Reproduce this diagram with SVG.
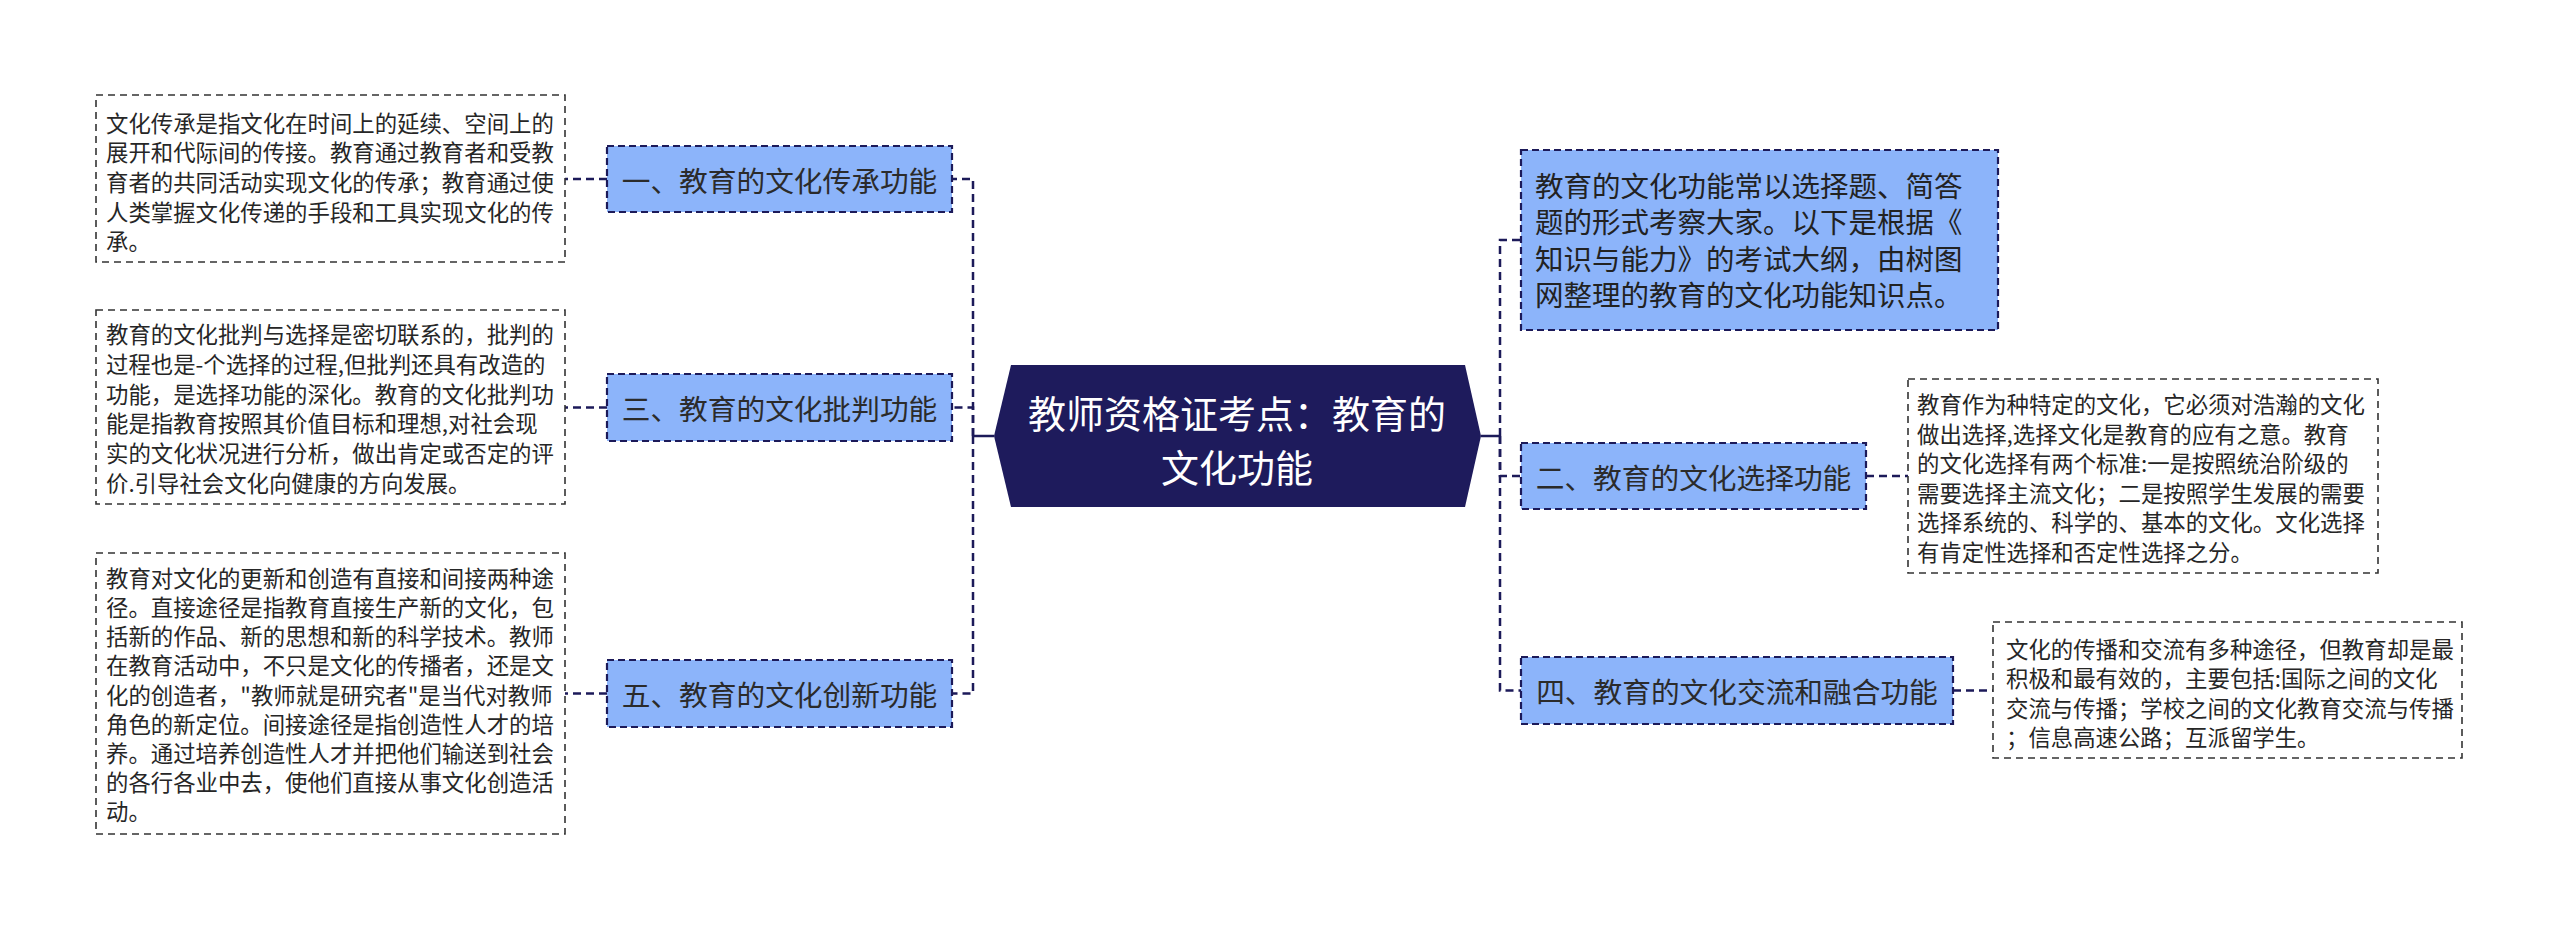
<svg xmlns="http://www.w3.org/2000/svg" width="2560" height="930" viewBox="0 0 2560 930">
<style>
text { font-family: "Noto Sans CJK SC", "Noto Sans", sans-serif; dominant-baseline: central; }
.leaf rect { fill: #ffffff; stroke: #333333; stroke-width: 1.6; stroke-dasharray: 7 5; }
.leaf text { font-size: 22.4px; fill: #262626; }
.branch rect { fill: #8cb4fa; stroke: #1c1a59; stroke-width: 2.2; stroke-dasharray: 7 4; }
.branch text { font-size: 28.7px; fill: #2b2b2b; text-anchor: middle; }
.intro text { font-size: 28.5px; fill: #222222; text-anchor: start; }
.root polygon { fill: #1e1b5c; }
.root text { font-size: 38px; fill: #ffffff; text-anchor: middle; }
.conn path { fill: none; stroke: #1c1a59; stroke-width: 2.5; }
.conn .d { stroke-dasharray: 8 5; }
</style>

<g id="connectors" class="conn">
  <path d="M994 436 H973"/>
  <path class="d" d="M973 436 V179 H952"/>
  <path class="d" d="M973 436 V407.5 H952"/>
  <path class="d" d="M973 436 V693.5 H952"/>
  <path d="M1481 436 H1500"/>
  <path class="d" d="M1500 436 V240 H1521"/>
  <path class="d" d="M1500 436 V476 H1521"/>
  <path class="d" d="M1500 436 V690.5 H1521"/>
  <path class="d" d="M607 179 H565"/>
  <path class="d" d="M607 407.5 H565"/>
  <path class="d" d="M607 693.5 H565"/>
  <path class="d" d="M1866 476 H1908"/>
  <path class="d" d="M1953 690.5 H1993"/>
</g>

<g id="root" class="root">
  <polygon points="994,436 1011,365 1465,365 1481,436 1465,507 1011,507"/>
  <text x="1237" y="411">教师资格证考点：教育的</text>
  <text x="1237" y="465">文化功能</text>
</g>

<g id="branch1" class="branch">
  <rect x="607" y="146" width="345" height="66"/>
  <text x="779.5" y="179">一、教育的文化传承功能</text>
</g>
<g id="branch3" class="branch">
  <rect x="607" y="374" width="345" height="67"/>
  <text x="779.5" y="407.5">三、教育的文化批判功能</text>
</g>
<g id="branch5" class="branch">
  <rect x="607" y="660" width="345" height="67"/>
  <text x="779.5" y="693.5">五、教育的文化创新功能</text>
</g>
<g id="intro" class="branch intro">
  <rect x="1521" y="150" width="477" height="180"/>
  <text x="1535" y="184">教育的文化功能常以选择题、简答</text>
  <text x="1535" y="220.5">题的形式考察大家。以下是根据《</text>
  <text x="1535" y="257">知识与能力》的考试大纲，由树图</text>
  <text x="1535" y="293.5">网整理的教育的文化功能知识点。</text>
</g>
<g id="branch2" class="branch">
  <rect x="1521" y="443" width="345" height="66"/>
  <text x="1693.5" y="476">二、教育的文化选择功能</text>
</g>
<g id="branch4" class="branch">
  <rect x="1521" y="657" width="432" height="67"/>
  <text x="1737" y="690.5">四、教育的文化交流和融合功能</text>
</g>

<g id="leaf1" class="leaf">
  <rect x="96" y="95" width="469" height="167"/>
  <text x="106" y="121.8">文化传承是指文化在时间上的延续、空间上的</text>
  <text x="106" y="151.4">展开和代际间的传接。教育通过教育者和受教</text>
  <text x="106" y="181">育者的共同活动实现文化的传承；教育通过使</text>
  <text x="106" y="210.6">人类掌握文化传递的手段和工具实现文化的传</text>
  <text x="106" y="240.2">承。</text>
</g>
<g id="leaf3" class="leaf">
  <rect x="96" y="310" width="469" height="194"/>
  <text x="106" y="333">教育的文化批判与选择是密切联系的，批判的</text>
  <text x="106" y="362.8">过程也是-个选择的过程,但批判还具有改造的</text>
  <text x="106" y="392.6">功能，是选择功能的深化。教育的文化批判功</text>
  <text x="106" y="422.4">能是指教育按照其价值目标和理想,对社会现</text>
  <text x="106" y="452.2">实的文化状况进行分析，做出肯定或否定的评</text>
  <text x="106" y="482">价.引导社会文化向健康的方向发展。</text>
</g>
<g id="leaf5" class="leaf">
  <rect x="96" y="553" width="469" height="281"/>
  <text x="106" y="576.7">教育对文化的更新和创造有直接和间接两种途</text>
  <text x="106" y="605.9">径。直接途径是指教育直接生产新的文化，包</text>
  <text x="106" y="635.1">括新的作品、新的思想和新的科学技术。教师</text>
  <text x="106" y="664.3">在教育活动中，不只是文化的传播者，还是文</text>
  <text x="106" y="693.5">化的创造者，"教师就是研究者"是当代对教师</text>
  <text x="106" y="722.7">角色的新定位。间接途径是指创造性人才的培</text>
  <text x="106" y="751.9">养。通过培养创造性人才并把他们输送到社会</text>
  <text x="106" y="781.1">的各行各业中去，使他们直接从事文化创造活</text>
  <text x="106" y="810.3">动。</text>
</g>
<g id="leaf2" class="leaf">
  <rect x="1908" y="379" width="470" height="194"/>
  <text x="1917" y="403">教育作为种特定的文化，它必须对浩瀚的文化</text>
  <text x="1917" y="432.6">做出选择,选择文化是教育的应有之意。教育</text>
  <text x="1917" y="462.2">的文化选择有两个标准:一是按照统治阶级的</text>
  <text x="1917" y="491.8">需要选择主流文化；二是按照学生发展的需要</text>
  <text x="1917" y="521.4">选择系统的、科学的、基本的文化。文化选择</text>
  <text x="1917" y="551">有肯定性选择和否定性选择之分。</text>
</g>
<g id="leaf4" class="leaf">
  <rect x="1993" y="622" width="469" height="136"/>
  <text x="2006" y="647.9">文化的传播和交流有多种途径，但教育却是最</text>
  <text x="2006" y="677.3">积极和最有效的，主要包括:国际之间的文化</text>
  <text x="2006" y="706.7">交流与传播；学校之间的文化教育交流与传播</text>
  <text x="2006" y="736.1">；信息高速公路；互派留学生。</text>
</g>
</svg>
